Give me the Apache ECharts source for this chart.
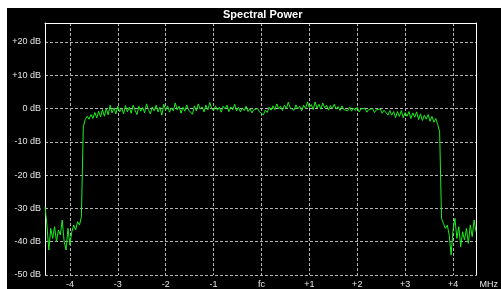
<!DOCTYPE html>
<html>
<head>
<meta charset="utf-8">
<script src="https://cdn.jsdelivr.net/npm/echarts@6/dist/echarts.min.js"></script>
<style>
    html, body { margin: 0; padding: 0; background: #fff; }
    #main { position: absolute; left: 7px; top: 8px; width: 494px; height: 281px; background: #000; }
</style>
</head>
<body>
<div id="main"></div>
<script>
// spectrum bins: first bin frequency and bin width, in MHz from fc
var binStart = -4.52;
var binWidth = 0.04;

// trace level per bin, dB
var powerDb = [
    -29.5, -35, -42.5, -36, -39, -35.5, -40, -36.5, -38, -33.5,
    -40, -42.5, -36, -41, -37, -35, -36.5, -34, -35, -32.5,
    -5.5, -3.3, -2.3, -3.2, -1.8, -3.0, -1.2, -2.8, -0.8, -2.5,
    -0.3, -2.3, 0.0, -1.9, 1.0, -1.3, 0.2, -1.6, 0.7, -1.0,
    0.2, -1.6, 0.9, -1.0, 0.4, -1.4, 1.0, -0.5, -1.8, 0.7,
    -0.8, 0.3, -1.3, 1.4, -0.3, -1.6, 0.5, -0.7, 1.0, -1.0,
    0.4, -2.0, 1.3, -0.5, 0.8, -1.1, 0.2, -0.7, 1.7, -0.4,
    0.7, -1.4, 0.4, -0.8, 1.1, -0.5, 0.1, -1.7, 0.8, -0.7,
    1.4, -0.2, 0.5, -1.0, 1.0, -0.4, 1.8, 0.1, -0.7, 0.8,
    -0.5, 0.4, -1.1, 0.7, -0.1, 1.0, -0.9, 0.5, -0.4, 1.3,
    -0.7, 0.4, -1.0, 0.2, -0.6, 0.7, -0.9, 0.0, -1.3, -0.3,
    -0.9, 0.0, -1.0, -0.4, -1.9, -0.5, -1.2, 0.4, -0.5, 0.8,
    -0.4, 1.4, -0.1, 0.7, -0.6, 1.0, 0.0, 1.9, 0.2, 0.8,
    -0.5, 1.1, -0.1, 0.7, -0.7, 1.0, 0.0, 2.0, 0.3, 1.2,
    -0.3, 2.0, 0.1, 1.3, -0.2, 1.7, 0.2, 1.0, -0.5, 0.9,
    0.0, 1.3, -0.2, 0.6, -0.6, 0.8, -0.3, 0.3, -0.7, 0.5,
    -0.8, 0.2, -0.6, 0.4, -1.0, -0.1, -0.7, 0.1, -1.1, -0.3,
    -0.9, 0.0, -1.2, -0.4, -1.0, -0.1, -1.4, -0.5, -1.2, -2.0,
    -0.6, -2.0, -0.9, -2.7, -0.9, -2.4, -0.6, -2.8, -1.2, -2.3,
    -0.9, -3.0, -1.3, -2.6, -1.0, -3.3, -1.6, -3.6, -2.0, -3.2,
    -1.8, -3.8, -2.4, -4.1, -3.0, -4.8, -7, -33, -34.5, -36,
    -35, -38, -44, -36.5, -33, -39, -35.5, -41.5, -37, -39.5,
    -36, -40.5, -35, -38.5, -33.5, -37
];

// axis ticks and labels
var freqTicks = [-4, -3, -2, -1, 0, 1, 2, 3, 4];
var freqLabels = ['-4', '-3', '-2', '-1', 'fc', '+1', '+2', '+3', '+4'];
var dbTicks = [-50, -40, -30, -20, -10, 0, 10, 20];

var freqMin = -4.52;
var freqMax = 4.49;
var dbMin = -50;
var dbMax = 25.7;

var traceData = [];
for (var i = 0; i < powerDb.length; i++) {
    traceData.push([binStart + i * binWidth, powerDb[i]]);
}

var gridDash = { color: '#b4b4b4', width: 1, type: [3, 2] };
var labelFont = { color: '#e6e6e6', fontSize: 9, fontFamily: 'Liberation Sans' };

var myChart = echarts.init(document.getElementById('main'));

var option = {
    animation: false,
    backgroundColor: '#000',
    title: {
        text: 'Spectral Power',
        left: 216,
        top: 1,
        padding: 0,
        textStyle: { color: '#fff', fontSize: 11, fontWeight: 'bold', fontFamily: 'Liberation Sans' }
    },
    grid: { left: 38, top: 15, right: 21, bottom: 13 },
    xAxis: [
        {
            type: 'value',
            min: freqMin,
            max: freqMax,
            name: 'MHz',
            nameLocation: 'end',
            nameGap: 3,
            nameTextStyle: {
                color: '#e6e6e6', fontSize: 9, fontFamily: 'Liberation Sans',
                align: 'left', verticalAlign: 'top', padding: [5, 0, 0, 0]
            },
            axisLine: { show: false, onZero: false },
            axisTick: { show: false, customValues: freqTicks },
            axisLabel: {
                customValues: freqTicks,
                margin: 5,
                color: labelFont.color, fontSize: 9, fontFamily: labelFont.fontFamily,
                formatter: function (v) {
                    return freqLabels[freqTicks.indexOf(Math.round(v))];
                }
            },
            splitLine: { show: true, lineStyle: gridDash }
        },
        {
            type: 'value',
            position: 'top',
            min: freqMin,
            max: freqMax,
            axisLine: { show: true, onZero: false, lineStyle: { color: '#fff', width: 1 } },
            axisTick: { show: false },
            axisLabel: { show: false },
            splitLine: { show: false }
        }
    ],
    yAxis: [
        {
            type: 'value',
            min: dbMin,
            max: dbMax,
            axisLine: { show: true, onZero: false, lineStyle: { color: '#fff', width: 1 } },
            axisTick: { show: false, customValues: dbTicks },
            axisLabel: {
                customValues: dbTicks,
                margin: 4,
                color: labelFont.color, fontSize: 9, fontFamily: labelFont.fontFamily,
                formatter: function (v) {
                    return (v > 0 ? '+' : '') + v + ' dB';
                }
            },
            splitLine: { show: true, lineStyle: gridDash }
        },
        {
            type: 'value',
            position: 'right',
            min: dbMin,
            max: dbMax,
            axisLine: { show: true, onZero: false, lineStyle: { color: '#fff', width: 1 } },
            axisTick: { show: false },
            axisLabel: { show: false },
            splitLine: { show: false }
        }
    ],
    series: [
        {
            name: 'Spectral Power',
            type: 'line',
            data: traceData,
            showSymbol: false,
            clip: true,
            lineStyle: { color: '#1cf01c', width: 1 }
        }
    ]
};

myChart.setOption(option);
</script>
</body>
</html>
